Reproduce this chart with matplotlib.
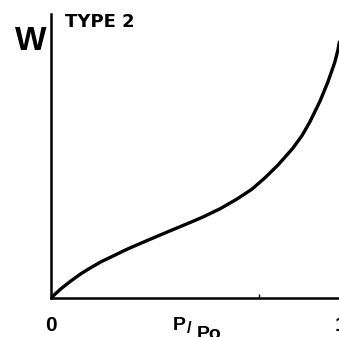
import matplotlib.pyplot as plt

# Type 2 isotherm
p_po = [0.0, 0.034, 0.069, 0.103, 0.138, 0.172, 0.221, 0.259, 0.297, 0.352,
        0.410, 0.469, 0.524, 0.583, 0.641, 0.693, 0.738, 0.783, 0.834, 0.866,
        0.893, 0.928, 0.955, 0.979, 0.990, 0.995]
w = [0.0, 0.032, 0.060, 0.085, 0.107, 0.127, 0.151, 0.170, 0.187, 0.211,
     0.236, 0.261, 0.285, 0.314, 0.348, 0.383, 0.423, 0.468, 0.527, 0.572,
     0.620, 0.693, 0.760, 0.830, 0.874, 0.902]

x_ticks = [0, 0.717, 1.0]
x_ticklabels = ['0', '', '1']

bold = {'family': 'Liberation Sans', 'weight': 'bold'}

fig = plt.figure(figsize=(3.39, 3.37), dpi=100)
ax = fig.add_axes([0.1504, 0.116, 0.855, 0.842])
ax.plot(p_po, w, color='black', linewidth=2.4, solid_capstyle='round',
        solid_joinstyle='round')

ax.set_xlim(0, 1.0)
ax.set_ylim(0, 1.0)
for side in ['top', 'right']:
    ax.spines[side].set_visible(False)
for side in ['left', 'bottom']:
    ax.spines[side].set_linewidth(1.8)
ax.set_yticks([])
ax.set_xticks(x_ticks)
ax.set_xticklabels(x_ticklabels, fontdict=bold, fontsize=15)
ax.tick_params(axis='x', direction='in', length=3, width=1, pad=13)

fig.text(0.044, 0.852, 'W', fontdict=bold, fontsize=24, va='baseline', ha='left')
fig.text(0.192, 0.920, 'TYPE 2', family='DejaVu Sans', weight='bold',
         fontsize=13, va='baseline', ha='left')

# P/Po label: raised P, slash, lowered Po (cut by the lower edge as in the reference)
fig.text(0.510, 0.021, 'P', fontdict=bold, fontsize=14, va='baseline', ha='left')
fig.text(0.552, 0.012, '/', fontdict=bold, fontsize=12, va='baseline', ha='left')
fig.text(0.581, -0.006, 'Po', fontdict=bold, fontsize=14, va='baseline', ha='left')

fig.savefig('out.png', dpi=100)
